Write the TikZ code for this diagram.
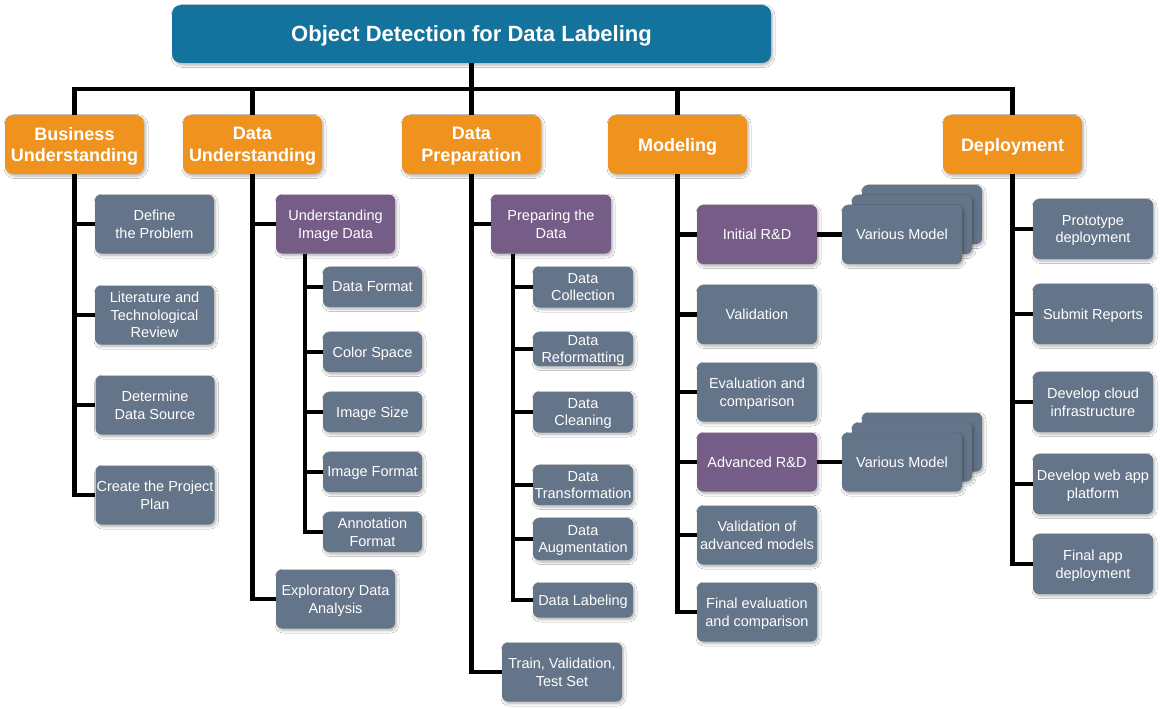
\documentclass[tikz,border=0pt]{standalone}
\usepackage{fontspec}
\setmainfont{Liberation Sans}
\usetikzlibrary{shadows,shadows.blur}
\definecolor{titleblue}{RGB}{20,115,157}
\definecolor{orangec}{RGB}{240,147,30}
\definecolor{greyc}{RGB}{100,116,137}
\definecolor{purplec}{RGB}{118,93,136}
\begin{document}
\begin{tikzpicture}[x=1pt,y=-1pt,
  base/.style={rounded corners=6pt, text=white, align=center, inner sep=0pt, text depth=0pt,
    blur shadow={shadow xshift=1.5pt, shadow yshift=-2pt, shadow blur radius=2.5pt,
      shadow blur steps=6, shadow opacity=30}},
  sz/.style 2 args={minimum width=#1pt, minimum height=#2pt},
  greybox/.style={base, fill=greyc, font=\fontsize{14.5}{17.5}\selectfont},
  purplebox/.style={base, fill=purplec, font=\fontsize{14.5}{17.5}\selectfont},
  orangebox/.style={base, rounded corners=8pt, fill=orangec, sz={139}{59},
    font=\fontsize{18}{21.5}\selectfont\bfseries},
  titlebox/.style={base, rounded corners=9pt, fill=titleblue, sz={599}{58},
    font=\fontsize{22}{26}\selectfont\bfseries},
  conn/.style={line width=4.3pt, draw=black},
  bigc/.style={greybox, sz={119}{59}},
  modc/.style={greybox, sz={120}{59}},
  smallc/.style={greybox, minimum width=99pt, minimum height=40pt},
  prepc/.style={greybox, minimum width=100pt}
]
\fill[white] (0,0) rectangle (1160,709);
\useasboundingbox (0,0) rectangle (1160,709);

% title and level 1
\node[titlebox] (title) at (471.5,34) {Object Detection for Data Labeling};
\coordinate (bus) at (471.5,89);
\node[orangebox] (bu) at (74.5,144.5) {Business\\Understanding};
\node[orangebox] (du) at (252.5,144.5) {Data\\Understanding};
\node[orangebox] (dp) at (471.5,144.5) {Data\\Preparation};
\node[orangebox] (mo) at (677.5,144.5) {Modeling};
\node[orangebox] (de) at (1012.5,144.5) {Deployment};

% business understanding
\node[bigc] (b1) at (154.5,224) {Define\\the Problem};
\node[bigc] (b2) at (154.5,315) {Literature and\\Technological\\Review};
\node[bigc] (b3) at (155,405) {Determine\\Data Source};
\node[bigc] (b4) at (155,495) {Create the Project\\Plan};

% data understanding
\node[purplebox, sz={119}{59}] (uid) at (335.5,224) {Understanding\\Image Data};
\node[bigc] (eda) at (335.5,599) {Exploratory Data\\Analysis};
\node[smallc] (u1) at (372.5,287) {Data Format};
\node[smallc] (u2) at (372.5,352) {Color Space};
\node[smallc] (u3) at (372.5,412) {Image Size};
\node[smallc] (u4) at (372.5,472) {Image Format};
\node[smallc] (u5) at (372.5,532) {Annotation\\Format};

% data preparation
\node[purplebox, sz={120}{59}] (ptd) at (551,224) {Preparing the\\Data};
\node[greybox, sz={120}{59}] (tvt) at (562,672) {Train, Validation,\\Test Set};
\node[prepc, minimum height=41pt] (p1) at (583,287) {Data\\Collection};
\node[prepc, minimum height=34pt] (p2) at (583,349) {Data\\Reformatting};
\node[prepc, minimum height=41pt] (p3) at (583,412) {Data\\Cleaning};
\node[prepc, minimum height=40pt] (p4) at (583,485) {Data\\Transformation};
\node[prepc, minimum height=42pt] (p5) at (583,539) {Data\\Augmentation};
\node[prepc, minimum height=35pt] (p6) at (583,600) {Data Labeling};

% modeling
\node[purplebox, sz={120}{59}] (m1) at (757,234.5) {Initial R\&D};
\node[modc] (m2) at (757,314.5) {Validation};
\node[modc] (m3) at (757,392) {Evaluation and\\comparison};
\node[purplebox, sz={120}{59}] (m4) at (757,462) {Advanced R\&D};
\node[modc] (m5) at (757,535) {Validation of\\advanced models};
\node[modc] (m6) at (757,612) {Final evaluation\\and comparison};

\node[modc] (va3) at (922,214.5) {};
\node[modc] (va2) at (912,224.5) {};
\node[modc] (va1) at (902,234.5) {Various Model};
\node[modc] (vb3) at (922,442) {};
\node[modc] (vb2) at (912,452) {};
\node[modc] (vb1) at (902,462) {Various Model};

% deployment
\node[modc, minimum height=60pt] (d1) at (1093,229) {Prototype\\deployment};
\node[modc, minimum height=60pt] (d2) at (1093,314) {Submit Reports};
\node[modc, minimum height=60pt] (d3) at (1093,402) {Develop cloud\\infrastructure};
\node[modc, minimum height=60pt] (d4) at (1093,484) {Develop web app\\platform};
\node[modc, minimum height=60pt] (d5) at (1093,564) {Final app\\deployment};

% connectors: title to level 1
\foreach \n in {bu,du,dp,mo,de}
  \draw[conn] (title.south) -- (title.south |- bus) -| (\n.north);

\foreach \c in {b1,b2,b3,b4}
  \draw[conn] (bu.south) |- (\c.west);
\foreach \c in {uid,eda}
  \draw[conn] (du.south) |- (\c.west);
\foreach \c in {u1,u2,u3,u4,u5}
  \draw[conn] ([xshift=29pt]uid.south west) |- (\c.west);
\foreach \c in {ptd,tvt}
  \draw[conn] (dp.south) |- (\c.west);
\foreach \c in {p1,p2,p3,p4,p5,p6}
  \draw[conn] ([xshift=22pt]ptd.south west) |- (\c.west);
\foreach \c in {m1,m2,m3,m4,m5,m6}
  \draw[conn] (mo.south) |- (\c.west);
\draw[conn] (m1.east) -- (va1.west);
\draw[conn] (m4.east) -- (vb1.west);
\foreach \c in {d1,d2,d3,d4,d5}
  \draw[conn] (de.south) |- (\c.west);
\end{tikzpicture}
\end{document}
